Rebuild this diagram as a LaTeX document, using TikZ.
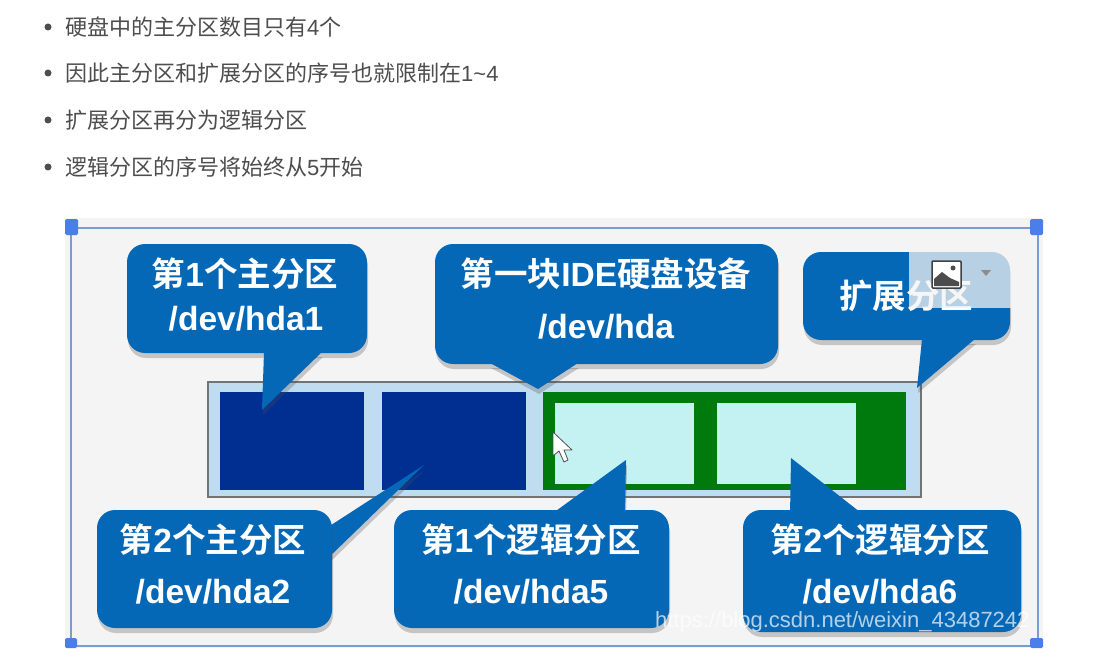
\documentclass[tikz,border=0pt]{standalone}
\usepackage{fontspec}
\setmainfont{Liberation Sans}
\newfontfamily\cjk{Noto Sans CJK SC}[BoldFont={* Bold}]
\usetikzlibrary{shadows}
\definecolor{framebg}{HTML}{F4F4F4}
\definecolor{frameline}{HTML}{7C9CCB}
\definecolor{handle}{HTML}{4A7FE8}
\definecolor{callblue}{HTML}{0568B6}
\definecolor{primblue}{HTML}{002F92}
\definecolor{extgreen}{HTML}{007A0C}
\definecolor{logcyan}{HTML}{C4F2F2}
\definecolor{barfill}{HTML}{C0DCF0}
\definecolor{bartext}{HTML}{4D4D4D}
\tikzset{
  softshadow/.style={drop shadow={shadow xshift=1pt,shadow yshift=-5pt,opacity=.28,fill=black!70}},
  listitem/.style={anchor=west,inner sep=0pt,text=bartext,font=\fontsize{22}{26}\selectfont},
  listdot/.style={circle,fill=bartext,inner sep=0pt,minimum size=7pt},
  callbox/.style={fill=callblue,rounded corners=18pt,inner sep=0pt,softshadow},
  calltail/.style={fill=callblue,softshadow},
  calltext/.style={text=white,font=\fontsize{33.5}{34}\selectfont\bfseries},
  block/.style={anchor=north west,inner sep=0pt,outer sep=0pt},
  corner/.style={block,fill=handle,rounded corners=1.5pt}
}
\begin{document}
\begin{tikzpicture}[x=1pt,y=-1pt]
\useasboundingbox (0,0) rectangle (1097,663);
% list
\node[listdot] (dota) at (48,27) {};
\node[listdot] (dotb) at (48,73) {};
\node[listdot] (dotc) at (48,120) {};
\node[listdot] (dotd) at (48,167) {};
\node[listitem] (itema) at (65,27) {\cjk 硬盘中的主分区数目只有\normalfont 4\cjk 个};
\node[listitem] (itemb) at (65,73) {\cjk 因此主分区和扩展分区的序号也就限制在\normalfont 1\textasciitilde 4};
\node[listitem] (itemc) at (65,120) {\cjk 扩展分区再分为逻辑分区};
\node[listitem] (itemd) at (65,167) {\cjk 逻辑分区的序号将始终从\normalfont 5\cjk 开始};
% frame
\fill[framebg] (65,218) rectangle (1043,648);
\draw[frameline,line width=2pt] (71,228) rectangle (1038,646);
\node[corner,minimum width=13pt,minimum height=16pt] (handa) at (65,219) {};
\node[corner,minimum width=13pt,minimum height=16pt] (handb) at (1030,219) {};
\node[corner,minimum width=12pt,minimum height=10pt] (handc) at (65,638) {};
\node[corner,minimum width=13pt,minimum height=10pt] (handd) at (1030,638) {};
% disk
\node[block,fill=barfill,draw=black!55,line width=1.5pt,minimum width=713pt,minimum height=115pt] (disk) at (208,382) {};
\node[block,fill=primblue,minimum width=144pt,minimum height=98pt] (parta) at (220,392) {};
\node[block,fill=primblue,minimum width=144pt,minimum height=98pt] (partb) at (382,392) {};
\node[block,fill=extgreen,minimum width=363pt,minimum height=98pt] (partext) at (543,392) {};
\node[block,fill=logcyan,minimum width=139pt,minimum height=81pt] (loga) at (555,403) {};
\node[block,fill=logcyan,minimum width=139pt,minimum height=81pt] (logb) at (717,403) {};
% pointer
\draw[fill=white,draw=black!70,line width=.8pt,line join=round] (553,432) -- (553,456) -- (559,451) -- (564,462) -- (568,460) -- (564,450) -- (572,450) -- cycle;
\coordinate (tipa) at (262,410);
\coordinate (tipb) at (538,389);
\coordinate (tipc) at (917,388);
\coordinate (tipd) at (424,465);
\coordinate (tipe) at (626,460);
\coordinate (tipf) at (791,458);
% lower tails go under their boxes
\fill[calltail] (325,529) -- (tipd) -- (325,561) -- cycle;
\fill[calltail] (549,516) -- (tipe) -- (625,516) -- cycle;
\fill[calltail] (790,516) -- (tipf) -- (865,516) -- cycle;
% callouts
\node[callbox,minimum width=240pt,minimum height=109pt] (boxa) at (247,298.5) {};
\node[callbox,minimum width=343pt,minimum height=120pt] (boxb) at (606.5,304) {};
\node[callbox,minimum width=207pt,minimum height=88pt] (boxc) at (906.5,296) {};
\node[callbox,minimum width=235pt,minimum height=118pt] (boxd) at (214.5,569) {};
\node[callbox,minimum width=275pt,minimum height=118pt] (boxe) at (531.5,569) {};
\node[callbox,minimum width=278pt,minimum height=122pt] (boxf) at (882,571) {};
\fill[calltail] (264,352) -- (tipa) -- (322,352) -- cycle;
\fill[calltail] (490,363) -- (tipb) -- (578,363) -- cycle;
\fill[calltail] (922,339) -- (tipc) -- (975,339) -- cycle;
% callout text
\node[calltext] (texta) at (245,274) {\cjk 第\normalfont\bfseries 1\cjk 个主分区};
\node[calltext] (textb) at (246,319) {/dev/hda1};
\node[calltext] (textc) at (606,274) {\cjk 第一块\normalfont\bfseries IDE\cjk 硬盘设备};
\node[calltext] (textd) at (606,327) {/dev/hda};
\node[calltext] (texte) at (906,296) {\cjk 扩展分区};
\node[calltext] (textf) at (213,540) {\cjk 第\normalfont\bfseries 2\cjk 个主分区};
\node[calltext] (textg) at (213,592) {/dev/hda2};
\node[calltext] (texth) at (531,540) {\cjk 第\normalfont\bfseries 1\cjk 个逻辑分区};
\node[calltext] (texti) at (531,592) {/dev/hda5};
\node[calltext] (textj) at (880,540) {\cjk 第\normalfont\bfseries 2\cjk 个逻辑分区};
\node[calltext] (textk) at (880,592) {/dev/hda6};
% image toolbar
\node[block,fill=framebg,fill opacity=.75,minimum width=103pt,minimum height=68pt] (toolbar) at (909,240) {};
\draw[black!75,fill=white,line width=1.5pt,rounded corners=1pt] (932,261) rectangle (961,288);
\fill[black!70] (934,286) -- (934,279) -- (942,272) -- (950,278) -- (959,282) -- (959,286) -- cycle;
\fill[black!70] (953,268) circle (2.5);
\fill[black!45] (981,270) -- (991,270) -- (986,276) -- cycle;
% watermark
\node[anchor=west,inner sep=0pt,text=white,text opacity=.7,font=\fontsize{22}{26}\selectfont] (mark) at (655,622) {https://blog.csdn.net/weixin\_43487242};
\end{tikzpicture}
\end{document}
